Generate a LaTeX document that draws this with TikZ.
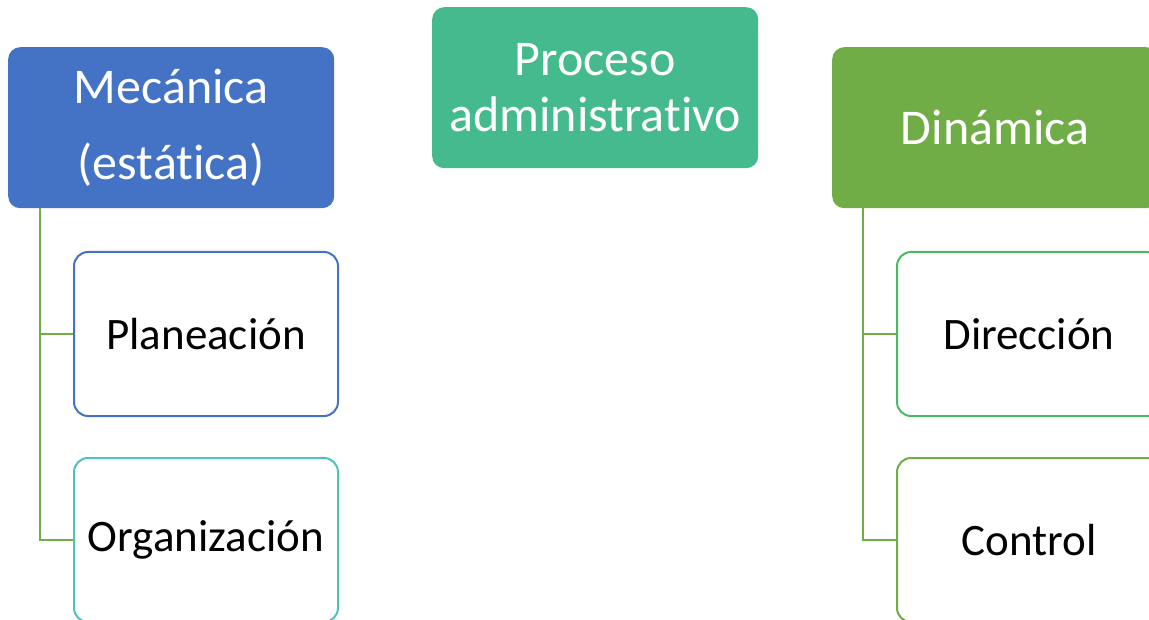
\documentclass[tikz,border=0pt]{standalone}
\usepackage{fontspec}
\setmainfont{Carlito}[RawFeature={-liga;-clig;-calt;-dlig}]
\definecolor{cblue}{HTML}{4472C4}
\definecolor{cteal}{HTML}{45BB8D}
\definecolor{cgreen}{HTML}{70AD47}
\definecolor{cturq}{HTML}{4EC3BE}
\definecolor{cmgreen}{HTML}{4CB865}
\tikzset{
  head/.style={anchor=north west, inner sep=0pt, minimum width=326pt, minimum height=161pt,
    rounded corners=12pt, text=white, align=center, font=\fontsize{50}{76}\selectfont},
  child/.style={anchor=north west, inner sep=0pt, minimum width=264pt, minimum height=164pt,
    rounded corners=14pt, line width=2pt, fill=white, text=black, align=center,
    font=\fontsize{45}{55}\selectfont},
  conn/.style={draw=cgreen, line width=2.2pt}
}
\begin{document}
\begin{tikzpicture}[x=1pt,y=-1pt]
\useasboundingbox (0,0) rectangle (1149,620);
\clip (0,0) rectangle (1149,620);
\node[head, fill=cblue] (mec) at (8,47) {Mecánica\\(estática)};
\node[head, fill=cteal, font=\fontsize{50}{56}\selectfont] (pro) at (432,7) {Proceso\\administrativo};
\node[head, fill=cgreen] (din) at (832,47) {Dinámica};
\coordinate (lt) at (40,208);
\coordinate (rt) at (863,208);
\node[child, draw=cblue] (plan) at (73,251) {Planeación};
\node[child, draw=cturq] (org) at (73,457) {Organización};
\node[child, draw=cmgreen] (dir) at (896,251) {Dirección};
\node[child, draw=cgreen] (ctl) at (896,457) {Control};
\draw[conn] (lt) |- (plan.west);
\draw[conn] (lt) |- (org.west);
\draw[conn] (rt) |- (dir.west);
\draw[conn] (rt) |- (ctl.west);
\end{tikzpicture}
\end{document}
